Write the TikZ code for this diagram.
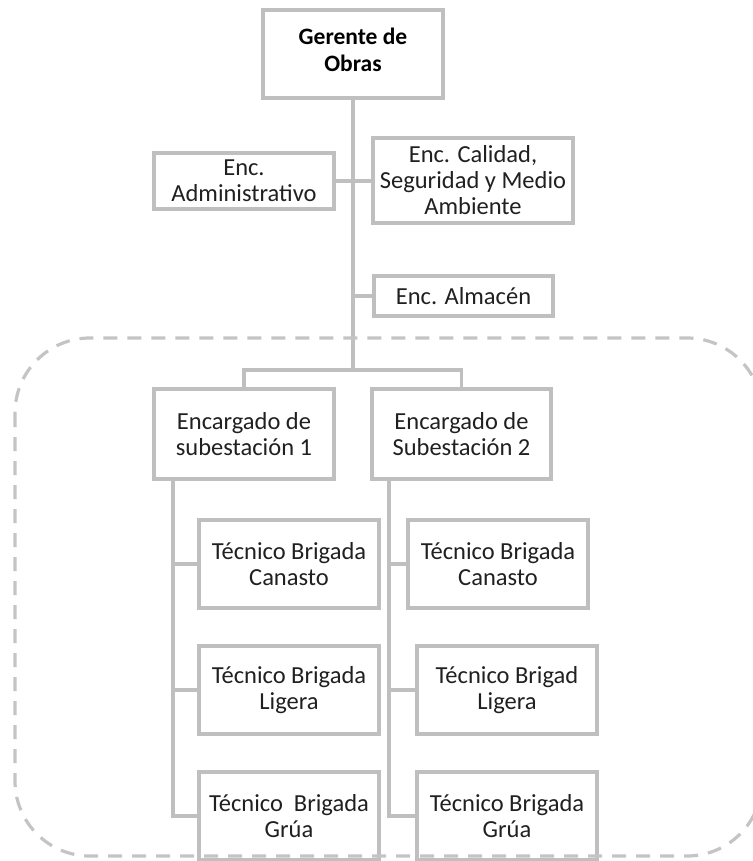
\documentclass[tikz,border=0pt]{standalone}
\usepackage{fontspec}
\setmainfont{Carlito}
\definecolor{linegray}{HTML}{BFBFBF}
\definecolor{dashgray}{HTML}{C4C4C4}
\definecolor{textdark}{HTML}{202020}
\pgfdeclarelayer{background}
\pgfsetlayers{background,main}
\tikzset{
  orgbox/.style={draw=linegray, line width=3.2pt, fill=white, inner sep=0pt,
    align=center, text=textdark, font=\fontsize{24.5}{26}\selectfont},
  wide/.style={minimum width=180pt},
  link/.style={draw=linegray, line width=3.4pt},
  group/.style={draw=dashgray, line width=3.2pt, dash pattern=on 14pt off 10pt,
    rounded corners=75pt}
}
\begin{document}
\begin{tikzpicture}[x=1pt,y=1pt]
\useasboundingbox (0,0) rectangle (752,-861);

% boxes
\node[orgbox, wide, minimum height=88pt, text=black] (ger) at (353,-54) {};
\node[font=\fontsize{23.5}{27.5}\selectfont\bfseries, align=center, inner sep=0pt]
  (gertext) at (353,-50) {Gerente de\\Obras};
\node[orgbox, wide, minimum height=56pt] (adm) at (244,-181) {Enc.\\Administrativo};
\node[orgbox, minimum width=200pt, minimum height=85pt] (cal) at (473,-180.5)
  {Enc. Calidad,\\Seguridad y Medio\\Ambiente};
\node[orgbox, minimum width=179pt, minimum height=40pt] (alm) at (463.5,-296) {Enc. Almacén};
\node[orgbox, wide, minimum height=90pt] (enc1) at (244,-434) {Encargado de\\subestación 1};
\node[orgbox, minimum width=179pt, minimum height=90pt] (enc2) at (461.5,-434) {Encargado de\\Subestación 2};

\node[orgbox, wide, minimum height=88pt] (t11) at (289,-564) {Técnico Brigada\\Canasto};
\node[orgbox, wide, minimum height=88pt] (t12) at (289,-690) {Técnico Brigada\\Ligera};
\node[orgbox, wide, minimum height=88pt] (t13) at (289,-816) {Técnico\ \ Brigada\\Grúa};
\node[orgbox, wide, minimum height=88pt] (t21) at (498,-564) {Técnico Brigada\\Canasto};
\node[orgbox, wide, minimum height=88pt] (t22) at (507,-690) {Técnico Brigad\\Ligera};
\node[orgbox, wide, minimum height=88pt] (t23) at (507,-816) {Técnico Brigada\\Grúa};

% connector points
\coordinate (bar) at (353,-370);
\coordinate (c1) at (173,-479);
\coordinate (c2) at (389,-479);

% connectors, kept behind the boxes
\begin{pgfonlayer}{background}
\path[link] (ger.south) -- (bar);
\path[link] (adm.east) -- (adm.east -| cal.west);
\path[link] (alm.west) -- (alm.west -| ger.south);
\path[link] (enc1.north) |- (bar) -| (enc2.north);
\path[link] (c1) |- (t11.west);
\path[link] (c1) |- (t12.west);
\path[link] (c1) |- (t13.west);
\path[link] (c2) |- (t21.west);
\path[link] (c2) |- (t22.west);
\path[link] (c2) |- (t23.west);
\end{pgfonlayer}

% dashed group outline
\draw[group] (15,-338) rectangle (762,-856);
\end{tikzpicture}
\end{document}
